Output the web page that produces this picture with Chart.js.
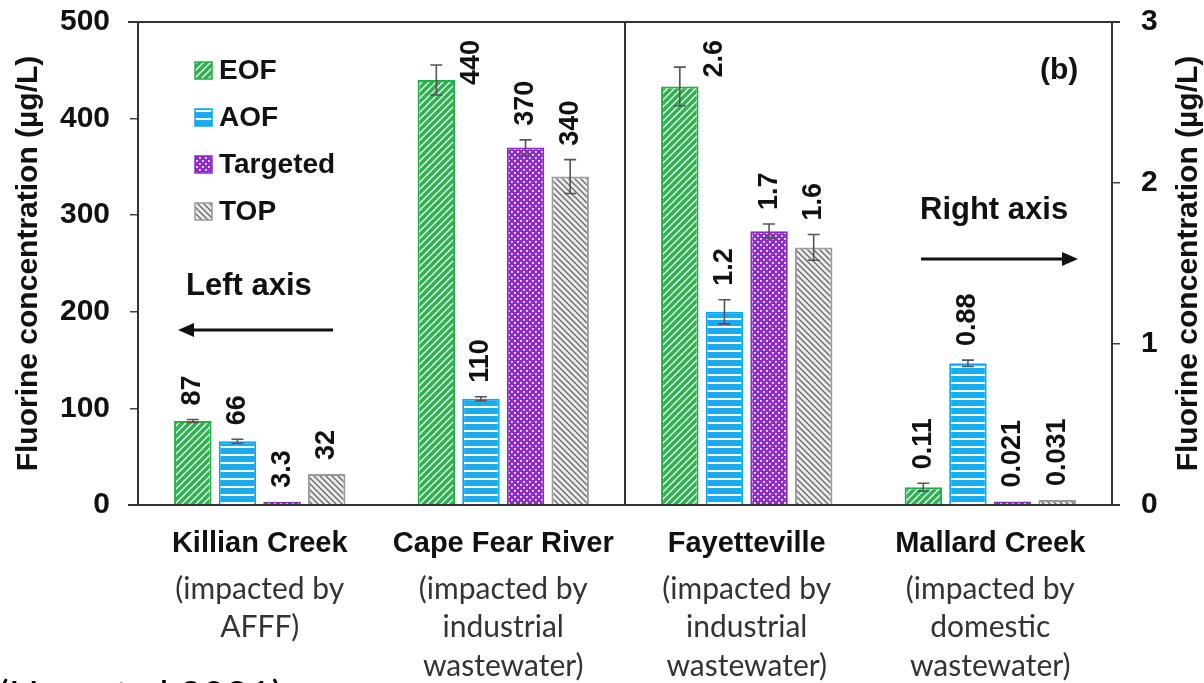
<!DOCTYPE html>
<html>
<head>
<meta charset="utf-8">
<script src="https://cdn.jsdelivr.net/npm/chart.js@4.4.0/dist/chart.umd.min.js"></script>
<style>
  html, body { margin: 0; padding: 0; background: #fff; }
  #wrap { width: 1204px; height: 683px; position: relative; }
</style>
</head>
<body>
<div id="wrap"><canvas id="chart"></canvas></div>
<script>
// sites and their captions
var sites = ['Killian Creek', 'Cape Fear River', 'Fayetteville', 'Mallard Creek'];
var notes = [
  ['(impacted by', 'AFFF)'],
  ['(impacted by', 'industrial', 'wastewater)'],
  ['(impacted by', 'industrial', 'wastewater)'],
  ['(impacted by', 'domestic', 'wastewater)']
];
// first two sites read on the left axis, last two on the right axis
var axisOf = ['y', 'y', 'y1', 'y1'];

var seriesNames = ['EOF', 'AOF', 'Targeted', 'TOP'];
var eofVals = [87, 440, 2.6, 0.11];
var aofVals = [66, 110, 1.2, 0.88];
var targetedVals = [3.3, 370, 1.7, 0.021];
var topVals = [32, 340, 1.6, 0.031];

var eofErr = [1.5, 15.5, 0.12, 0.025];
var aofErr = [2, 2, 0.075, 0.02];
var targetedErr = [0, 8, 0.045, 0];
var topErr = [0, 17.5, 0.08, 0];

var leftMax = 500, leftStep = 100;
var rightMax = 3, rightStep = 1;

var FONT = '"Liberation Sans", Arial, sans-serif';
var SOFT = 'Lato, "Open Sans", sans-serif';

function tile(w, h, draw) {
  var c = document.createElement('canvas');
  c.width = w; c.height = h;
  var g = c.getContext('2d');
  draw(g, w, h);
  return g.createPattern(c, 'repeat');
}

var patterns = [
  tile(7, 7, function (g, w, h) {
    g.fillStyle = '#2cb24f'; g.fillRect(0, 0, w, h);
    g.strokeStyle = 'rgba(255,255,255,0.95)'; g.lineWidth = 1.4;
    g.beginPath();
    g.moveTo(0, h); g.lineTo(w, 0);
    g.moveTo(-1, 1); g.lineTo(1, -1);
    g.moveTo(w - 1, h + 1); g.lineTo(w + 1, h - 1);
    g.stroke();
  }),
  tile(4, 8, function (g, w, h) {
    g.fillStyle = '#17acef'; g.fillRect(0, 0, w, h);
    g.fillStyle = '#ffffff'; g.fillRect(0, 6, w, 2);
  }),
  tile(6, 6, function (g, w, h) {
    g.fillStyle = '#8c2ec5'; g.fillRect(0, 0, w, h);
    g.fillStyle = '#f4eafa';
    g.fillRect(1, 1, 1.8, 1.8); g.fillRect(4, 4, 1.8, 1.8);
  }),
  tile(6, 6, function (g, w, h) {
    g.fillStyle = '#ececec'; g.fillRect(0, 0, w, h);
    g.strokeStyle = '#6c6c6c'; g.lineWidth = 1.4;
    g.beginPath();
    g.moveTo(0, 0); g.lineTo(w, h);
    g.moveTo(-1, h - 1); g.lineTo(1, h + 1);
    g.moveTo(w - 1, -1); g.lineTo(w + 1, 1);
    g.stroke();
  })
];
var borders = ['#25ad48', '#0fa6ec', '#8a2bc2', '#9a9a9a'];

var seriesVals = [eofVals, aofVals, targetedVals, topVals];
var seriesErr = [eofErr, aofErr, targetedErr, topErr];

var datasets = [];
seriesVals.forEach(function (vals, s) {
  ['y', 'y1'].forEach(function (ax) {
    datasets.push({
      label: seriesNames[s],
      yAxisID: ax,
      stack: seriesNames[s],
      data: vals.map(function (v, i) { return axisOf[i] === ax ? v : null; }),
      errors: seriesErr[s].map(function (e, i) { return axisOf[i] === ax ? e : null; }),
      backgroundColor: patterns[s],
      borderColor: borders[s],
      borderWidth: 2,
      categoryPercentage: 0.733,
      barPercentage: 0.84
    });
  });
});

function arrow(ctx, x1, y, x2) {
  var dir = x2 > x1 ? 1 : -1;
  ctx.save();
  ctx.strokeStyle = '#111'; ctx.fillStyle = '#111'; ctx.lineWidth = 3;
  ctx.beginPath(); ctx.moveTo(x1, y); ctx.lineTo(x2 - dir * 10, y); ctx.stroke();
  ctx.beginPath();
  ctx.moveTo(x2, y); ctx.lineTo(x2 - dir * 16, y - 7); ctx.lineTo(x2 - dir * 16, y + 7);
  ctx.closePath(); ctx.fill();
  ctx.restore();
}

var overlay = {
  id: 'overlay',
  afterDatasetsDraw: function (chart) {
    var ctx = chart.ctx, area = chart.chartArea;
    chart.data.datasets.forEach(function (ds, di) {
      var meta = chart.getDatasetMeta(di);
      var sc = chart.scales[ds.yAxisID];
      meta.data.forEach(function (bar, i) {
        var v = ds.data[i];
        if (v === null || v === undefined) return;
        var e = ds.errors[i] || 0;
        var yTop = sc.getPixelForValue(v + e);
        ctx.save();
        if (e > 0) {
          var yBot = sc.getPixelForValue(v - e);
          ctx.strokeStyle = '#555'; ctx.lineWidth = 1.6;
          ctx.beginPath();
          ctx.moveTo(bar.x, yBot); ctx.lineTo(bar.x, yTop);
          ctx.moveTo(bar.x - 6, yTop); ctx.lineTo(bar.x + 6, yTop);
          ctx.moveTo(bar.x - 6, yBot); ctx.lineTo(bar.x + 6, yBot);
          ctx.stroke();
        }
        ctx.font = 'bold 27px ' + FONT;
        ctx.fillStyle = '#111';
        var txt = String(v);
        var len = ctx.measureText(txt).width;
        var x = bar.x, y0 = Math.min(yTop, bar.y) - 14;
        if (y0 - len < area.top + 14) {
          x = bar.x + bar.width / 2 + 16;
          y0 = area.top + 18 + len;
        }
        ctx.translate(x, y0);
        ctx.rotate(-Math.PI / 2);
        ctx.textAlign = 'left'; ctx.textBaseline = 'middle';
        ctx.fillText(txt, 0, 0);
        ctx.restore();
      });
    });
  },
  afterDraw: function (chart) {
    var ctx = chart.ctx, area = chart.chartArea, xs = chart.scales.x;
    ctx.save();
    // frame: top line, bottom line, divider between the two axis halves
    ctx.strokeStyle = '#333'; ctx.lineWidth = 2;
    var mid = (xs.getPixelForValue(1) + xs.getPixelForValue(2)) / 2;
    ctx.beginPath();
    ctx.moveTo(area.left - 10, area.top); ctx.lineTo(area.right + 8, area.top);
    ctx.moveTo(area.left - 10, area.bottom); ctx.lineTo(area.right + 8, area.bottom);
    ctx.moveTo(mid, area.top); ctx.lineTo(mid, area.bottom);
    ctx.stroke();

    // legend
    ctx.font = 'bold 28px ' + FONT;
    ctx.textBaseline = 'middle'; ctx.textAlign = 'left';
    seriesNames.forEach(function (name, s) {
      var cy = 70 + s * 47;
      ctx.fillStyle = patterns[s];
      ctx.fillRect(195, cy - 8, 17, 17);
      ctx.strokeStyle = borders[s]; ctx.lineWidth = 1.5;
      ctx.strokeRect(195, cy - 8, 17, 17);
      ctx.fillStyle = '#111';
      ctx.fillText(name, 219, cy + 1);
    });

    // annotations
    ctx.font = 'bold 31px ' + FONT;
    ctx.fillStyle = '#111';
    ctx.fillText('Left axis', 186, 286);
    ctx.fillText('Right axis', 920, 210);
    ctx.font = 'bold 30px ' + FONT;
    ctx.fillText('(b)', 1040, 71);
    arrow(ctx, 333, 330, 178);
    arrow(ctx, 921, 259, 1078);

    // axis titles (both read bottom to top)
    var midY = (area.top + area.bottom) / 2;
    ctx.font = 'bold 30px ' + FONT;
    ctx.textAlign = 'center';
    [29, 1189].forEach(function (tx) {
      ctx.save();
      ctx.translate(tx, midY);
      ctx.rotate(-Math.PI / 2);
      ctx.fillText('Fluorine concentration (\u00b5g/L)', 0, 0);
      ctx.restore();
    });

    // site captions
    ctx.font = '30px ' + SOFT;
    ctx.fillStyle = '#333';
    notes.forEach(function (lines, i) {
      var cx = xs.getPixelForValue(i);
      lines.forEach(function (ln, k) {
        ctx.fillText(ln, cx, area.bottom + 84 + k * 38.5);
      });
    });

    // citation, cut off at the bottom edge
    ctx.font = '40px ' + SOFT;
    ctx.fillStyle = '#000';
    ctx.textAlign = 'left'; ctx.textBaseline = 'alphabetic';
    ctx.fillText('(Hou et al 2021)', -2, 710);
    ctx.restore();
  }
};

var yStyle = {
  grid: { display: true, drawOnChartArea: false, drawTicks: true, tickLength: 8, color: '#444', lineWidth: 1.5 },
  border: { display: true, color: '#333', width: 2 }
};

function fixWidth(w) {
  return function (s) {
    s.width = w;
    s.paddingTop = 0;
    s.paddingBottom = 0;
  };
}

new Chart(document.getElementById('chart'), {
  type: 'bar',
  data: { labels: sites, datasets: datasets },
  options: {
    responsive: true,
    maintainAspectRatio: false,
    animation: false,
    layout: { padding: { top: 22, left: 0, right: 0, bottom: 0 } },
    plugins: { legend: { display: false }, tooltip: { enabled: false } },
    scales: {
      x: {
        grid: { display: false, drawTicks: false, tickLength: 0 },
        border: { display: true, color: '#333', width: 2 },
        ticks: { color: '#111', font: { family: FONT, size: 29, weight: 'bold' }, padding: 22, maxRotation: 0, autoSkip: false },
        afterFit: function (s) { s.height = 178; }
      },
      y: {
        position: 'left', min: 0, max: leftMax, stacked: false,
        grid: yStyle.grid, border: yStyle.border,
        ticks: { stepSize: leftStep, padding: 20, color: '#111', font: { family: FONT, size: 30, weight: 'bold' } },
        afterFit: fixWidth(138)
      },
      y1: {
        position: 'right', min: 0, max: rightMax, stacked: false,
        grid: yStyle.grid, border: yStyle.border,
        ticks: { stepSize: rightStep, padding: 21, color: '#111', font: { family: FONT, size: 30, weight: 'bold' } },
        afterFit: fixWidth(92)
      }
    }
  },
  plugins: [overlay]
});
</script>
</body>
</html>
